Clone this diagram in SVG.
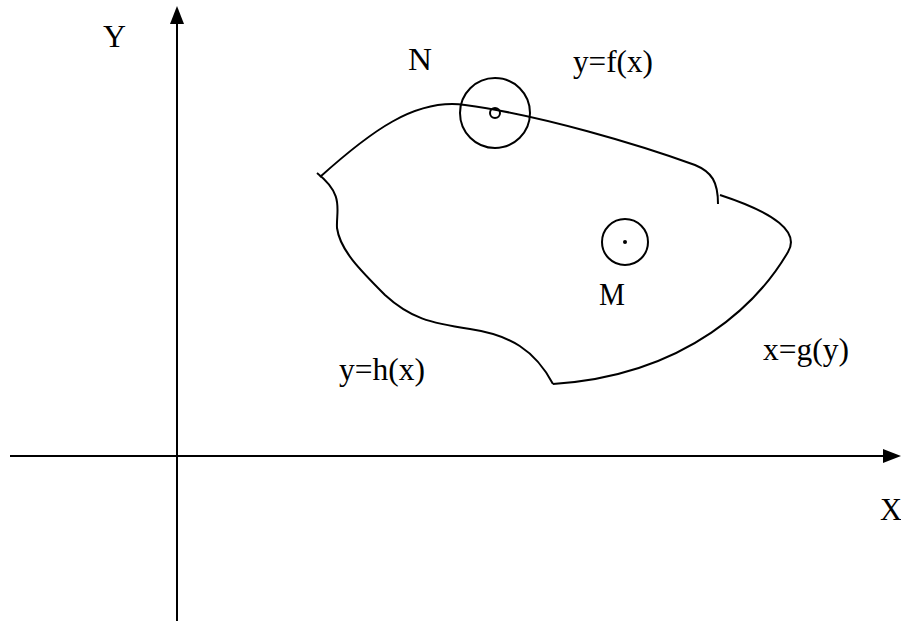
<svg xmlns="http://www.w3.org/2000/svg" width="901" height="621" viewBox="0 0 901 621">
<style>
.ln{fill:none;stroke:#000;stroke-width:2}
.t{font-family:"Liberation Serif","Times New Roman",serif;font-size:31px;fill:#000}
</style>
<rect width="901" height="621" fill="#fff"/>
<g id="axes">
<line class="ln" x1="177" y1="22" x2="177" y2="621"/>
<polygon points="177,6 170,24 184,24" fill="#000"/>
<line class="ln" x1="10" y1="456" x2="886" y2="456"/>
<polygon points="901,456 883,449 883,463" fill="#000"/>
</g>
<g id="region">
<path class="ln" d="M320,177 C370,132 415,98 465,105 C540,115 640,145 695,165 C712,172 718,182 718,204"/>
<path class="ln" d="M720,195 C775,213 800,232 788,252 C760,300 690,375 553,384"/>
<path class="ln" d="M553,384 C535,350 510,335 470,329 C430,323 410,318 385,295 C360,270 340,250 337,228 C336,210 345,195 317,173"/>
</g>
<g id="N-node">
<circle class="ln" cx="495" cy="113" r="35"/>
<circle class="ln" cx="495" cy="113" r="5"/>
</g>
<g id="M-node">
<circle class="ln" cx="625" cy="242" r="23"/>
<circle cx="625" cy="242" r="2" fill="#000"/>
</g>
<g id="labels">
<text class="t" x="103" y="47" textLength="23" lengthAdjust="spacingAndGlyphs">Y</text>
<text class="t" x="408" y="70" textLength="24" lengthAdjust="spacingAndGlyphs">N</text>
<text class="t" x="573" y="72" textLength="80" lengthAdjust="spacingAndGlyphs">y=f(x)</text>
<text class="t" x="599" y="305" textLength="26" lengthAdjust="spacingAndGlyphs">M</text>
<text class="t" x="763" y="360" textLength="86" lengthAdjust="spacingAndGlyphs">x=g(y)</text>
<text class="t" x="339" y="380" textLength="86" lengthAdjust="spacingAndGlyphs">y=h(x)</text>
<text class="t" x="880" y="520" textLength="22" lengthAdjust="spacingAndGlyphs">X</text>
</g>
</svg>
